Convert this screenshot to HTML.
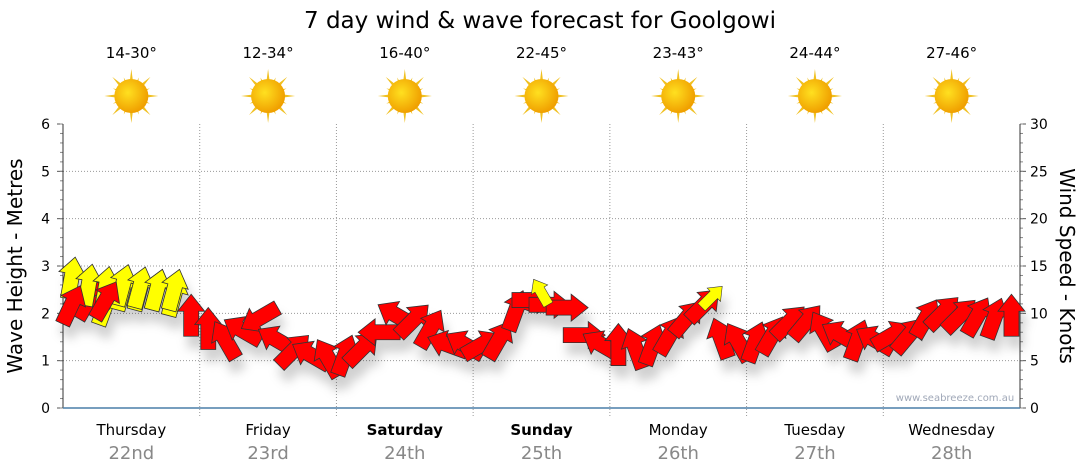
<!DOCTYPE html>
<html><head><meta charset="utf-8"><style>
body{margin:0;background:#fff;}
svg{display:block;font-family:"DejaVu Sans","Liberation Sans",sans-serif;}
</style></head><body>
<svg id="chart" width="1080" height="475" viewBox="0 0 1080 475">
<defs>
<radialGradient id="sunG" cx="0.4" cy="0.4" r="0.6"><stop offset="0" stop-color="#ffe020"/><stop offset="1" stop-color="#f0a000"/></radialGradient>
<filter id="sh" x="-50%" y="-50%" width="200%" height="200%"><feDropShadow dx="4" dy="12" stdDeviation="5" flood-color="#000" flood-opacity="0.18"/></filter>
</defs>
<text x="540" y="28" text-anchor="middle" font-size="23" fill="#000">7 day wind &amp; wave forecast for Goolgowi</text>
<g id="grid"></g><g id="axes"></g><g id="top"></g>
<g id="marks" filter="url(#sh)"></g>
<text x="955" y="401" text-anchor="middle" font-size="10" fill="#a0a8b8">www.seabreeze.com.au</text>
<text transform="translate(22,266) rotate(-90)" text-anchor="middle" font-size="20" fill="#000">Wave Height - Metres</text>
<text transform="translate(1060,266) rotate(90)" text-anchor="middle" font-size="20" fill="#000">Wind Speed - Knots</text>
</svg>
<script>
const days=["Thursday","Friday","Saturday","Sunday","Monday","Tuesday","Wednesday"];
const dates=["22nd","23rd","24th","25th","26th","27th","28th"];
const boldDays=[false,false,true,true,false,false,false];
const temps=["14-30°","12-34°","16-40°","22-45°","23-43°","24-44°","27-46°"];
const leftTicks=[0,1,2,3,4,5,6];
const rightTicks=[0,5,10,15,20,25,30];
const windSpeed=[10.9,11.4,10.9,12.5,12.5,12.5,11.9,9.8,8.4,7.2,8.2,9.5,7.2,6.1,5.6,5.3,5.6,6.3,8.0,9.8,9.3,8.4,6.7,6.7,6.7,7.2,10.3,11.4,10.9,10.6,7.7,6.7,6.7,6.3,6.7,7.7,9.5,10.9,7.4,7.0,7.0,7.7,9.1,9.1,8.2,7.7,7.2,7.2,7.7,7.7,9.5,10.1,9.8,9.7,9.5,9.8];
const windDir=[25,30,20,15,15,15,15,0,0,330,300,240,300,45,300,330,20,45,270,300,45,30,290,300,60,30,20,90,90,90,90,300,0,340,20,30,40,45,340,330,20,30,45,40,330,300,20,300,60,40,30,45,45,30,20,0];
const windColor=["r","r","y","y","y","y","y","r","r","r","r","r","r","r","r","r","r","r","r","r","r","r","r","r","r","r","r","r","r","r","r","r","r","r","r","r","r","r","r","r","r","r","r","r","r","r","r","r","r","r","r","r","r","r","r","r"];
const swellSlot=[0,1,2,3,4,5,6,27,37];
const swellHeight=[2.75,2.6,2.55,2.6,2.55,2.5,2.5,2.45,2.35];
const swellDir=[10,10,10,15,15,15,15,330,45];

const X0=63,X1=1020,Y0=408,Y1=124;
const dayW=(X1-X0)/7, slotW=dayW/8;
const yM=m=>Y0-m*(Y0-Y1)/6;
const yK=k=>Y0-k*(Y0-Y1)/30;
const xS=i=>X0+slotW*(i+0.5);
const NS="http://www.w3.org/2000/svg";
function mk(p,tag,at){const e=document.createElementNS(NS,tag);for(const k in at)e.setAttribute(k,at[k]);p.appendChild(e);return e;}
const grid=document.getElementById('grid'),axes=document.getElementById('axes'),top_=document.getElementById('top'),marks=document.getElementById('marks');
leftTicks.forEach(v=>{
 if(v>0&&v<6){const g=mk(grid,'line',{x1:X0,x2:X1,y1:yM(v),y2:yM(v),stroke:'#999','stroke-dasharray':'1,2'});
 
 }
 const t=mk(axes,'text',{x:50,y:yM(v)+5,'text-anchor':'end','font-size':14,fill:'#000'});t.textContent=v;
 
 
 mk(axes,'line',{x1:X0-6,x2:X0,y1:yM(v),y2:yM(v),stroke:'#555'});
});
for(let m=0;m<=30;m++){const v=m*0.2;mk(axes,'line',{x1:X0-3,x2:X0,y1:yM(v),y2:yM(v),stroke:'#888'});}
rightTicks.forEach(v=>{
 const t=mk(axes,'text',{x:1030,y:yK(v)+5,'font-size':14,fill:'#000'});t.textContent=v;
 
 
 mk(axes,'line',{x1:X1,x2:X1+6,y1:yK(v),y2:yK(v),stroke:'#555'});
});
for(let k=0;k<=30;k++)mk(axes,'line',{x1:X1,x2:X1+3,y1:yK(k),y2:yK(k),stroke:'#888'});
mk(axes,'line',{x1:X0,x2:X0,y1:Y1,y2:Y0,stroke:'#333'});
mk(axes,'line',{x1:X1,x2:X1,y1:Y1,y2:Y0,stroke:'#333'});
mk(axes,'line',{x1:X0,x2:X1,y1:Y0,y2:Y0,stroke:'#4a7fa8','stroke-width':1.5});
days.forEach((d,i)=>{
 const cx=X0+dayW*(i+0.5);
 if(i>0){const g=mk(grid,'line',{x1:X0+dayW*i,x2:X0+dayW*i,y1:Y1,y2:Y0+10,stroke:'#999','stroke-dasharray':'1,2'});
 
 }
 const t=mk(axes,'text',{x:cx,y:435,'text-anchor':'middle','font-size':15,fill:'#000','font-weight':boldDays[i]?'bold':'normal'});t.textContent=d;
 
 
 const t2=mk(axes,'text',{x:cx,y:459,'text-anchor':'middle','font-size':18,fill:'#888'});t2.textContent=dates[i];
 
 
 const t3=mk(top_,'text',{x:cx,y:58,'text-anchor':'middle','font-size':15,fill:'#000'});t3.textContent=temps[i];
 
 
 const s=mk(top_,'g',{transform:`translate(${cx},96)`});
 
 
 for(let a=0;a<16;a++){const L=a%2?20:27;mk(s,'polygon',{points:`-3.5,0 3.5,0 0,-${L}`,fill:'#f0c020',transform:`rotate(${a*22.5})`});}
 mk(s,'circle',{r:17,fill:'url(#sunG)'});
});
const arrowPts="-7.5,21 7.5,21 7.5,-4 13.5,-4 0,-21 -13.5,-4 -7.5,-4";
windSpeed.forEach((k,i)=>{
 const a=mk(marks,'polygon',{points:arrowPts,fill:windColor[i]==='y'?'#ffff00':'#ff0000',stroke:'#333','stroke-width':0.8,transform:`translate(${xS(i)},${yK(k)}) rotate(${windDir[i]})`});
 
 
});
swellSlot.forEach((s,j)=>{
 const sc=j>=7?0.7:1;
 const a=mk(marks,'polygon',{points:arrowPts,fill:'#ffff00',stroke:'#333','stroke-width':0.8,transform:`translate(${xS(s)+(j>=7?8:0)},${yM(swellHeight[j])}) rotate(${swellDir[j]}) scale(${sc})`});
 
 
});
[0,1].forEach(i=>{
 const a=mk(marks,'polygon',{points:arrowPts,fill:'#ff0000',stroke:'#333','stroke-width':0.8,transform:`translate(${xS(i*2)},${yK(windSpeed[i])}) rotate(${windDir[i]})`});
 
 
});
</script>
</body></html>
